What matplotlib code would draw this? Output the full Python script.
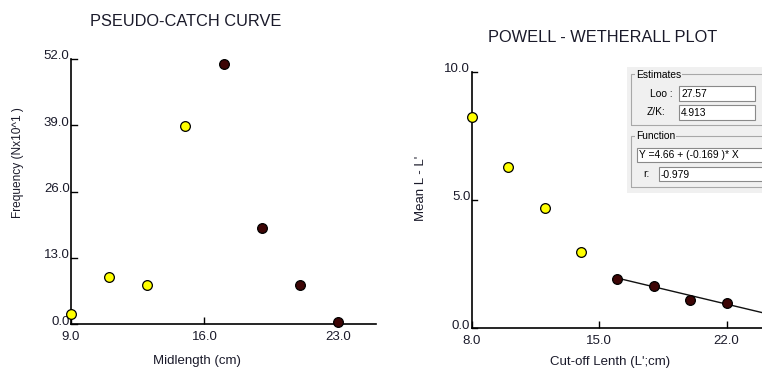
import matplotlib
matplotlib.use("Agg")
import matplotlib.pyplot as plt
from matplotlib.patches import Rectangle
from matplotlib.transforms import ScaledTranslation
import numpy as np

plt.rcParams['font.family'] = ['Liberation Sans', 'DejaVu Sans']

# ---- Pseudo-catch curve data ----
catch_mid = [9.0, 11.0, 13.0, 15.0, 17.0, 19.0, 21.0, 23.0]
catch_freq = [2.0, 9.3, 7.7, 38.8, 51.1, 18.8, 7.7, 0.5]
catch_used = [False, False, False, False, True, True, True, True]
catch_xticks = [9.0, 16.0, 23.0]
catch_yticks = [0.0, 13.0, 26.0, 39.0, 52.0]

# ---- Powell-Wetherall data ----
pw_cutoff = [8.0, 10.0, 12.0, 14.0, 16.0, 18.0, 20.0, 22.0]
pw_mean_diff = [8.22, 6.30, 4.69, 2.96, 1.92, 1.66, 1.12, 0.97]
pw_used = [False, False, False, False, True, True, True, True]
pw_xticks = [8.0, 15.0, 22.0]
pw_yticks = [0.0, 5.0, 10.0]

# regression results
reg_intercept = 4.66
reg_slope = -0.169
reg_r = -0.979
l_inf = 27.57
z_over_k = 4.913

W, H = 762, 369
fig = plt.figure(figsize=(W / 100, H / 100), dpi=100)
fig.patch.set_facecolor('white')

TXT = '#1a1a2a'
YELLOW = '#ffff00'
DARK = '#3d0505'
TICK_FS = 9.5
LABEL_FS = 9.5
TITLE_FS = 11.8


def px_rect(x0, y0, x1, y1):
    """figure-fraction rect from pixel edges (top-left origin)."""
    return [x0 / W, 1 - y1 / H, (x1 - x0) / W, (y1 - y0) / H]


def style_axes(ax, xticks, yticks):
    for s in ('top', 'right'):
        ax.spines[s].set_visible(False)
    for s in ('left', 'bottom'):
        ax.spines[s].set_linewidth(1.2)
        ax.spines[s].set_color('black')
    ax.set_xticks(xticks)
    ax.set_yticks(yticks)
    ax.set_xticklabels([f"{t:.1f}" for t in xticks])
    ax.set_yticklabels([f"{t:.1f}" for t in yticks])
    ax.tick_params(axis='both', direction='in', length=5, width=1.0,
                   labelsize=TICK_FS, colors='black', labelcolor=TXT)
    ax.tick_params(axis='y', pad=1)
    ax.tick_params(axis='x', pad=5)
    ax.tick_params(axis='y', direction='out', length=0)
    for lab in ax.get_yticklabels():
        lab.set_transform(lab.get_transform() +
                          ScaledTranslation(0, 3 / 72, fig.dpi_scale_trans))
    ax.set_facecolor('none')


def draw_points(ax, xs, ys, used):
    xs = np.asarray(xs)
    ys = np.asarray(ys)
    used = np.asarray(used)
    ax.plot(xs[~used], ys[~used], 'o', ms=7.0, mfc=YELLOW, mec='black',
            mew=0.9, clip_on=False, zorder=5)
    ax.plot(xs[used], ys[used], 'o', ms=7.0, mfc=DARK, mec='black',
            mew=0.9, clip_on=False, zorder=5)


def inward_ytick_marks(ax, yticks, x0, length):
    for t in yticks:
        ax.plot([x0, x0 + length], [t, t], color='black', lw=1.0,
                clip_on=False, zorder=3)


# ---- left panel ----
ax1 = fig.add_axes(px_rect(71, 59, 376, 324.3))
ax1.set_xlim(9, 25)
ax1.set_ylim(0, 52)
style_axes(ax1, catch_xticks, catch_yticks)
inward_ytick_marks(ax1, catch_yticks, 9, 0.3)
draw_points(ax1, catch_mid, catch_freq, catch_used)
fig.text(186 / W, 1 - 21 / H, 'PSEUDO-CATCH CURVE', ha='center',
         va='center', fontsize=TITLE_FS, color=TXT)
fig.text(197 / W, 1 - 361 / H, 'Midlength (cm)', ha='center', va='center',
         fontsize=LABEL_FS, color=TXT)
fig.text(18 / W, 1 - 163 / H, 'Frequency (Nx10^1 )', ha='center',
         va='center', rotation=90, fontsize=8.6, color=TXT)

# ---- right panel ----
ax2 = fig.add_axes(px_rect(471.7, 71.7, 763, 328.3))
ax2.set_xlim(8, 24)
ax2.set_ylim(0, 10)
style_axes(ax2, pw_xticks, pw_yticks)
inward_ytick_marks(ax2, pw_yticks, 8, 0.3)
line_x = np.array([pw_cutoff[4], 24.0])
ax2.plot(line_x, reg_intercept + reg_slope * line_x, color='#111111',
         lw=1.0, zorder=4, clip_on=False)
draw_points(ax2, pw_cutoff, pw_mean_diff, pw_used)
fig.text(603 / W, 1 - 37 / H, 'POWELL - WETHERALL PLOT', ha='center',
         va='center', fontsize=TITLE_FS, color=TXT)
fig.text(610 / W, 1 - 362 / H, "Cut-off Lenth (L';cm)", ha='center',
         va='center', fontsize=LABEL_FS, color=TXT)
fig.text(421 / W, 1 - 188 / H, "Mean L - L'", ha='center', va='center',
         rotation=90, fontsize=LABEL_FS, color=TXT)

# ---- results panel ----
PANEL = '#f0f0f0'


def fig_rect(x0, y0, x1, y1, **kw):
    r = Rectangle((x0 / W, 1 - y1 / H), (x1 - x0) / W, (y1 - y0) / H,
                  transform=fig.transFigure, **kw)
    fig.add_artist(r)
    return r


fig_rect(627, 67, 764, 193, facecolor=PANEL, edgecolor='none', zorder=6)
# group frames
fig_rect(631, 74, 770, 125, facecolor='none', edgecolor='#a8a8a8', lw=0.8,
         zorder=7)
fig_rect(631, 136, 770, 187, facecolor='none', edgecolor='#a8a8a8', lw=0.8,
         zorder=7)

PF = 7.4


def group_title(x, y, s):
    fig.text(x / W, 1 - y / H, s, ha='left', va='center', fontsize=PF,
             color='black', zorder=9,
             bbox=dict(facecolor=PANEL, edgecolor='none', pad=0.6))


group_title(636, 74.5, 'Estimates')
group_title(636, 136.5, 'Function')


def field(x0, y0, x1, y1, s):
    fig_rect(x0, y0, x1, y1, facecolor='white', edgecolor='#8a8a8a',
             lw=0.8, zorder=8)
    fig.text((x0 + 2) / W, 1 - ((y0 + y1) / 2 + 0.5) / H, s, ha='left',
             va='center', fontsize=PF, color='black', zorder=9)


def label(x, y, s):
    fig.text(x / W, 1 - y / H, s, ha='left', va='center', fontsize=PF,
             color='black', zorder=9)


label(650, 94, 'Loo :')
field(679, 86, 755, 101, f"{l_inf:.2f}")
label(647, 112, 'Z/K:')
field(679, 105, 755, 120, f"{z_over_k:.3f}")
field(637, 148, 770, 162,
      f"Y ={reg_intercept:.2f} + ({reg_slope:.3f} )* X")
label(643, 174, 'r:')
field(659, 167, 770, 181, f"{reg_r:.3f}")

fig.savefig('out.png', dpi=100, facecolor='white')
